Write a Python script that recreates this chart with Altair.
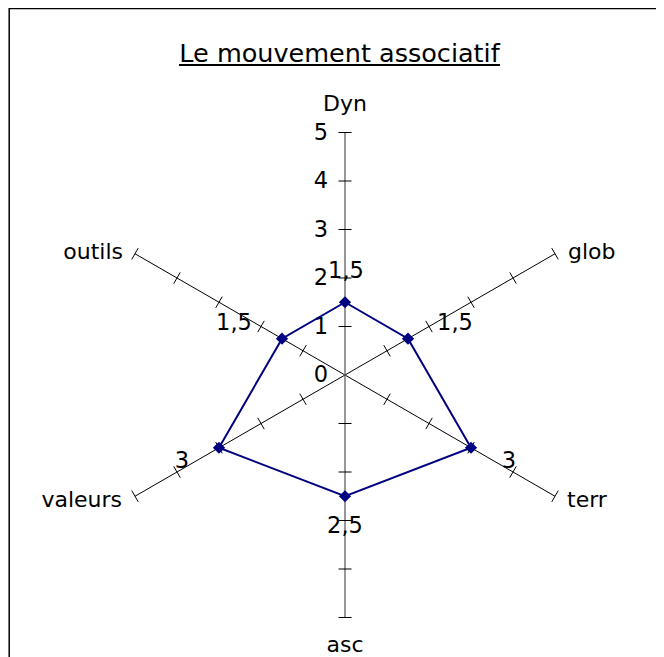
import math
import altair as alt
import pandas as pd

# ---------------- data ----------------
categories = ["Dyn", "glob", "terr", "asc", "valeurs", "outils"]
values = [1.5, 1.5, 3, 2.5, 3, 1.5]
value_labels = ["1,5", "1,5", "3", "2,5", "3", "1,5"]
scale_values = [0, 1, 2, 3, 4, 5]
scale_labels = ["0", "1", "2", "3", "4", "5"]
title_text = "Le mouvement associatif"

# ---------------- style / layout ----------------
W, H = 648, 649
PX = 48.5            # pixels per unit
CX, CY = 337, 367    # centre of radar in plot pixels
RMAX = 5
ANGLES = [90, 30, -30, -90, -150, 150]
FONT = "DejaVu Sans"
NAVY = "#000080"
TICK_HALF = 6.5      # px

# label offsets in pixels (dx right, dy down)
cat_off = {"Dyn": (0, -29, "center"), "glob": (13, -2, "left"), "terr": (12, 4, "left"),
           "asc": (0, 27, "center"), "valeurs": (-13, 4, "right"), "outils": (-12, -2, "right")}
val_off = {"Dyn": (1, -31), "glob": (47, -16), "terr": (38, 13),
           "asc": (0, 30), "valeurs": (-37, 13), "outils": (-48, -16)}

xs = alt.Scale(domain=[-CX / PX, (W - CX) / PX], nice=False, zero=False)
ys = alt.Scale(domain=[-(H - CY) / PX, CY / PX], nice=False, zero=False)
X = lambda f: alt.X(f, type="quantitative", scale=xs, axis=None)
Y = lambda f: alt.Y(f, type="quantitative", scale=ys, axis=None)

def unit(a):
    r = math.radians(a)
    return math.cos(r), math.sin(r)

# axes
ax_rows = []
for c, a in zip(categories, ANGLES):
    ux, uy = unit(a)
    ax_rows.append({"cat": c, "x": 0.0, "y": 0.0, "x2": RMAX * ux, "y2": RMAX * uy,
                    "vert": abs(ux) < 1e-6})
axes_df = pd.DataFrame(ax_rows)

# ticks
tk_rows = []
h = TICK_HALF / PX
for c, a in zip(categories, ANGLES):
    ux, uy = unit(a)
    px_, py_ = -uy, ux
    for r in scale_values[1:]:
        tk_rows.append({"x": r * ux - h * px_, "y": r * uy - h * py_,
                        "x2": r * ux + h * px_, "y2": r * uy + h * py_})
ticks_df = pd.DataFrame(tk_rows)

# series
pts = []
for i, (c, a, v, lab) in enumerate(zip(categories, ANGLES, values, value_labels)):
    ux, uy = unit(a)
    ox, oy = val_off[c]
    pts.append({"cat": c, "order": i, "x": v * ux, "y": v * uy, "lab": lab,
                "lx": v * ux + ox / PX, "ly": v * uy - oy / PX})
pts_df = pd.DataFrame(pts)
poly_df = pd.concat([pts_df, pts_df.iloc[[0]].assign(order=len(pts))], ignore_index=True)

# category labels
cl_rows = []
for c, a in zip(categories, ANGLES):
    ux, uy = unit(a)
    ox, oy, al = cat_off[c]
    cl_rows.append({"cat": c, "x": RMAX * ux + ox / PX, "y": RMAX * uy - oy / PX, "al": al})
cl_df = pd.DataFrame(cl_rows)

# scale labels on Dyn axis
sl_df = pd.DataFrame({"v": scale_values, "lab": scale_labels})
sl_df["x"] = -17 / PX
sl_df["y"] = sl_df["v"]

base_axes = alt.Chart(axes_df)
axes_diag = base_axes.transform_filter("!datum.vert").mark_rule(color="black", strokeWidth=1).encode(
    x=X("x"), y=Y("y"), x2="x2", y2="y2")
axes_vert = base_axes.transform_filter("datum.vert").mark_rule(color="#606060", strokeWidth=1.3).encode(
    x=X("x"), y=Y("y"), x2="x2", y2="y2")
ticks = alt.Chart(ticks_df).mark_rule(color="black", strokeWidth=1).encode(
    x=X("x"), y=Y("y"), x2="x2", y2="y2")
line = alt.Chart(poly_df).mark_line(color=NAVY, strokeWidth=2).encode(
    x=X("x"), y=Y("y"), order="order:Q")
points = alt.Chart(pts_df).mark_point(shape="diamond", filled=True, color=NAVY, size=150, opacity=1).encode(
    x=X("x"), y=Y("y"))
vlabels = alt.Chart(pts_df).mark_text(font=FONT, fontSize=22.5, color="black", baseline="middle").encode(
    x=X("lx"), y=Y("ly"), text="lab:N")

def cat_layer(al):
    return alt.Chart(cl_df).transform_filter(f"datum.al == '{al}'").mark_text(
        font=FONT, fontSize=22, color="black", align=al, baseline="middle").encode(
        x=X("x"), y=Y("y"), text="cat:N")

slabels = alt.Chart(sl_df).mark_text(font=FONT, fontSize=22.5, color="black", align="right",
                                     baseline="middle").encode(x=X("x"), y=Y("y"), text="lab:N")

title_df = pd.DataFrame({"t": [title_text]})
title = alt.Chart(title_df).mark_text(font=FONT, fontSize=25.5, color="black", align="center",
                                      baseline="alphabetic").encode(
    x=alt.value(331.5), y=alt.value(54), text="t:N")
underline = alt.Chart(title_df).mark_rule(color="black", strokeWidth=2).encode(
    x=alt.value(171), x2=alt.value(492), y=alt.value(57))
border_top = alt.Chart(title_df).mark_rule(color="black", strokeWidth=1.5).encode(
    x=alt.value(1), x2=alt.value(W), y=alt.value(0.5))
border_left = alt.Chart(title_df).mark_rule(color="black", strokeWidth=1.5).encode(
    x=alt.value(1.2), y=alt.value(0), y2=alt.value(H))

chart = alt.layer(
    border_top, border_left, title, underline,
    axes_diag, axes_vert, ticks, slabels, line, points, vlabels,
    cat_layer("center"), cat_layer("left"), cat_layer("right"),
).properties(
    width=W, height=H, padding=0, autosize=alt.AutoSizeParams(type="none")
).configure_view(stroke=None)

chart.save("out.html", embed_options={"renderer": "svg", "actions": False})
